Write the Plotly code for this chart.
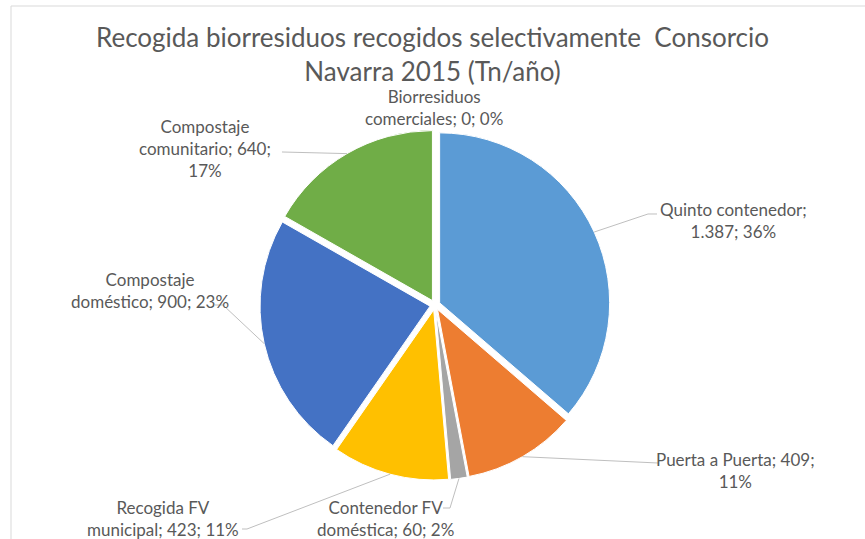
import math
import plotly.graph_objects as go

# ---- data ----
categories = ["Quinto contenedor", "Puerta a Puerta", "Contenedor FV doméstica",
              "Recogida FV municipal", "Compostaje doméstico", "Compostaje comunitario",
              "Biorresiduos comerciales"]
values = [1387, 409, 60, 423, 900, 640, 0]
pct_labels = ["36%", "11%", "2%", "11%", "23%", "17%", "0%"]
colors = ["#5B9BD5", "#ED7D31", "#A5A5A5", "#FFC000", "#4472C4", "#70AD47", "#264478"]

# label text broken as in the reference
label_lines = [
    ["Quinto contenedor;", "{v}; {p}"],
    ["Puerta a Puerta; {v};", "{p}"],
    ["Contenedor FV", "doméstica; {v}; {p}"],
    ["Recogida FV", "municipal; {v}; {p}"],
    ["Compostaje", "doméstico; {v}; {p}"],
    ["Compostaje", "comunitario; {v};", "{p}"],
    ["Biorresiduos", "comerciales; {v}; {p}"],
]

# ---- layout (pixels) ----
W, H = 865, 539
CX, CY, R = 435, 305, 170
PULL = 0.03
# label text centre, and leader path points after the slice anchor (elbow/end)
label_pos = [(733, 221), (735, 470), (385, 518), (163, 518), (150, 290), (205, 148), (434, 108)]
leader_pts = [
    [(648, 214), (657, 214)],
    [(658, 463)],
    [(450, 508), (443, 508)],
    [(247, 529), (242, 529)],
    [(223, 305), (215, 305)],
    [(282, 152)],
    [],
]

FONT = "Lato, Calibri, 'Open Sans', sans-serif"
TXT = "#595959"

def px(x):
    return x / W

def py(y):
    return 1 - y / H

half = R * (1 + PULL)  # plotly: r = min(box)/ (2*(1+maxPull))
fig = go.Figure(go.Pie(
    labels=categories,
    values=values,
    sort=False,
    direction="clockwise",
    rotation=0,
    pull=[PULL] * len(values),
    marker=dict(colors=colors, line=dict(color="white", width=1)),
    textinfo="none",
    hoverinfo="label+value+percent",
    showlegend=False,
    domain=dict(x=[px(CX - half), px(CX + half)],
                y=[py(CY + half), py(CY - half)]),
))

total = sum(values)
shapes = []
annotations = []
cum = 0
for i, v in enumerate(values):
    mid = (cum + v / 2) / total * 2 * math.pi
    cum += v
    ax = CX + R * (1 + PULL) * math.sin(mid)
    ay = CY - R * (1 + PULL) * math.cos(mid)
    vtxt = f"{v:,}".replace(",", ".")
    text = "<br>".join(l.format(v=vtxt, p=pct_labels[i]) for l in label_lines[i])
    lx, ly = label_pos[i]
    annotations.append(dict(
        x=px(lx), y=py(ly), xref="paper", yref="paper",
        text=text, showarrow=False, align="center",
        xanchor="center", yanchor="middle",
        font=dict(family=FONT, size=17, color=TXT),
    ))
    if leader_pts[i]:
        pts = [(ax, ay)] + leader_pts[i]
        path = "M " + " L ".join(f"{px(x):.5f},{py(y):.5f}" for x, y in pts)
        shapes.append(dict(type="path", xref="paper", yref="paper", path=path,
                           line=dict(color="#BFBFBF", width=1)))

# chart-area border (top and left visible)
shapes.append(dict(type="rect", xref="paper", yref="paper",
                   x0=px(11), x1=1.02, y0=-0.02, y1=py(6),
                   line=dict(color="#D9D9D9", width=1)))

fig.update_layout(
    width=W, height=H,
    margin=dict(l=0, r=0, t=0, b=0),
    paper_bgcolor="white",
    title=dict(
        text="Recogida biorresiduos recogidos selectivamente  Consorcio<br>Navarra 2015 (Tn/año)",
        x=0.5, xanchor="center", y=py(47), yanchor="top",
        font=dict(family=FONT, size=26, color=TXT),
    ),
    shapes=shapes,
    annotations=annotations,
)

fig.write_html("out.html", config={"displayModeBar": False},
               post_script="document.body.style.margin='0';")
